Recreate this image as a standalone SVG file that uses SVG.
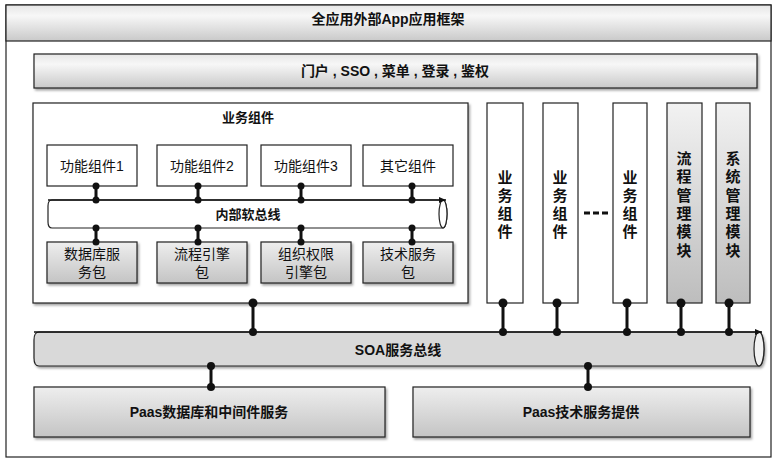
<svg xmlns="http://www.w3.org/2000/svg" width="776" height="462" viewBox="0 0 776 462">
<defs>
<linearGradient id="gBar" x1="0" y1="0" x2="0" y2="1">
<stop offset="0" stop-color="#e6e6e6"/><stop offset="0.3" stop-color="#f7f7f7"/><stop offset="1" stop-color="#c9c9c9"/>
</linearGradient>
<linearGradient id="gBox" x1="0" y1="0" x2="0" y2="1">
<stop offset="0" stop-color="#eeeeee"/><stop offset="1" stop-color="#c4c4c4"/>
</linearGradient>
<linearGradient id="gCol" x1="0" y1="0" x2="0" y2="1">
<stop offset="0" stop-color="#f2f2f2"/><stop offset="1" stop-color="#bdbdbd"/>
</linearGradient>
<filter id="sh" x="-5%" y="-5%" width="110%" height="120%">
<feDropShadow dx="1.5" dy="2" stdDeviation="1.2" flood-color="#000" flood-opacity="0.35"/>
</filter>
<marker id="arr" markerWidth="8" markerHeight="8" refX="7" refY="4" orient="auto" markerUnits="userSpaceOnUse">
<path d="M0,1 L7,4 L0,7 Z" fill="#111"/>
</marker>
</defs>
<style>
text{font-family:"Liberation Sans","Noto Sans CJK SC",sans-serif;fill:#111;text-anchor:middle;dominant-baseline:central}
.b{font-weight:bold}
.t14{font-size:14px}
.t13{font-size:13px}
.v{font-size:15px;font-weight:bold}
.box{fill:#fff;stroke:#222;stroke-width:1.2}
.gbox{fill:url(#gBox);stroke:#222;stroke-width:1.2}
.col{fill:#fff;stroke:#222;stroke-width:1.2}
.gcol{fill:url(#gCol);stroke:#222;stroke-width:1.2}
.ln{stroke:#111;stroke-width:3;fill:none}
.dot{fill:#111}
</style>

<g id="frame">
<rect x="6" y="5" width="765" height="452" fill="#fff" stroke="#222" stroke-width="1.2"/>
<rect x="6" y="5" width="765" height="36" fill="url(#gBar)" stroke="#222" stroke-width="1.2"/>
<text x="388" y="19" class="b t14">全应用外部App应用框架</text>
</g>

<g id="portal">
<rect x="34" y="54" width="723" height="34" fill="url(#gBar)" stroke="#222" stroke-width="1.2" filter="url(#sh)"/>
<text x="395" y="71" class="b t14">门户 , SSO , 菜单 , 登录 , 鉴权</text>
</g>

<g id="biz-container">
<rect x="33" y="103" width="435" height="200" fill="#fff" stroke="#222" stroke-width="1.2" filter="url(#sh)"/>
<text x="248" y="117" class="b t13">业务组件</text>
</g>

<g id="fc1"><rect class="box" x="47" y="145" width="90" height="41"/><text x="92" y="166" class="t14">功能组件1</text></g>
<g id="fc2"><rect class="box" x="157" y="145" width="90" height="41"/><text x="202" y="166" class="t14">功能组件2</text></g>
<g id="fc3"><rect class="box" x="261" y="145" width="90" height="41"/><text x="306" y="166" class="t14">功能组件3</text></g>
<g id="fc4"><rect class="box" x="363" y="145" width="90" height="41"/><text x="408" y="166" class="t14">其它组件</text></g>

<g id="inner-bus">
<path d="M52,200 L443,200 A4,14 0 0 1 443,228 L52,228 Q48,228 48,222 L48,206 Q48,200 52,200 Z" fill="#fff" stroke="#222" stroke-width="1.2"/>
<ellipse cx="443" cy="214" rx="4" ry="14" fill="#fff" stroke="#222" stroke-width="1.2"/>
<text x="248" y="214" class="b t13">内部软总线</text>
</g>

<g id="pk1"><rect class="gbox" x="47" y="242" width="90" height="41" filter="url(#sh)"/><text x="92" y="254" class="t14">数据库服</text><text x="92" y="272" class="t14">务包</text></g>
<g id="pk2"><rect class="gbox" x="157" y="242" width="90" height="41" filter="url(#sh)"/><text x="202" y="254" class="t14">流程引擎</text><text x="202" y="272" class="t14">包</text></g>
<g id="pk3"><rect class="gbox" x="261" y="242" width="90" height="41" filter="url(#sh)"/><text x="306" y="254" class="t14">组织权限</text><text x="306" y="272" class="t14">引擎包</text></g>
<g id="pk4"><rect class="gbox" x="363" y="242" width="90" height="41" filter="url(#sh)"/><text x="408" y="254" class="t14">技术服务</text><text x="408" y="272" class="t14">包</text></g>

<g id="col1"><rect class="col" x="487" y="103" width="36" height="200"/>
<text x="505" y="177" class="v">业</text><text x="505" y="195" class="v">务</text><text x="505" y="213" class="v">组</text><text x="505" y="231" class="v">件</text></g>
<g id="col2"><rect class="col" x="543" y="103" width="35" height="200"/>
<text x="560" y="177" class="v">业</text><text x="560" y="195" class="v">务</text><text x="560" y="213" class="v">组</text><text x="560" y="231" class="v">件</text></g>
<g id="col3"><rect class="col" x="613" y="103" width="34" height="200"/>
<text x="630" y="177" class="v">业</text><text x="630" y="195" class="v">务</text><text x="630" y="213" class="v">组</text><text x="630" y="231" class="v">件</text></g>
<g id="col4"><rect class="gcol" x="667" y="103" width="35" height="200"/>
<text x="684" y="158" class="v">流</text><text x="684" y="176" class="v">程</text><text x="684" y="195" class="v">管</text><text x="684" y="213" class="v">理</text><text x="684" y="231" class="v">模</text><text x="684" y="250" class="v">块</text></g>
<g id="col5"><rect class="gcol" x="716" y="103" width="34" height="200"/>
<text x="733" y="158" class="v">系</text><text x="733" y="176" class="v">统</text><text x="733" y="195" class="v">管</text><text x="733" y="213" class="v">理</text><text x="733" y="231" class="v">模</text><text x="733" y="250" class="v">块</text></g>

<g id="soa-bus">
<path d="M39,332 L759,332 A5,17 0 0 1 759,366 L39,366 Q34,366 34,358 L34,340 Q34,332 39,332 Z" fill="#d9d9d9" stroke="#222" stroke-width="1.2" filter="url(#sh)"/>
<ellipse cx="759" cy="349" rx="5" ry="17" fill="#f2f2f2" stroke="#222" stroke-width="1.2"/>
<text x="398" y="350" class="b t14">SOA服务总线</text>
</g>

<g id="paas1"><rect class="gbox" x="34" y="387" width="351" height="50" filter="url(#sh)"/><text x="209" y="412" class="b t14">Paas数据库和中间件服务</text></g>
<g id="paas2"><rect class="gbox" x="413" y="387" width="337" height="50" filter="url(#sh)"/><text x="581" y="412" class="b t14">Paas技术服务提供</text></g>

<g id="connectors">
<line x1="48" y1="200" x2="446" y2="200" stroke="#111" stroke-width="1.5" marker-end="url(#arr)"/>
<line x1="34" y1="332" x2="762" y2="332" stroke="#111" stroke-width="1.5" marker-end="url(#arr)"/>
<path class="ln" d="M96,186V200M198,186V200M301,186V200M412,186V200"/>
<path class="ln" d="M96,228V242M198,228V242M301,228V242M412,228V242"/>
<path class="ln" d="M253,303V332M503,303V332M557,303V332M627,303V332M681,303V332M729,303V332"/>
<path class="ln" d="M211,366V387M588,366V387"/>
<line x1="584" y1="213" x2="611" y2="213" stroke="#111" stroke-width="3" stroke-dasharray="6,3"/>
<g class="dot">
<circle cx="96" cy="186" r="3.5"/><circle cx="198" cy="186" r="3.5"/><circle cx="301" cy="186" r="3.5"/><circle cx="412" cy="186" r="3.5"/>
<circle cx="96" cy="200" r="3.5"/><circle cx="198" cy="200" r="3.5"/><circle cx="301" cy="200" r="3.5"/><circle cx="412" cy="200" r="3.5"/>
<circle cx="96" cy="228" r="3.5"/><circle cx="198" cy="228" r="3.5"/><circle cx="301" cy="228" r="3.5"/><circle cx="412" cy="228" r="3.5"/>
<circle cx="96" cy="242" r="3.5"/><circle cx="198" cy="242" r="3.5"/><circle cx="301" cy="242" r="3.5"/><circle cx="412" cy="242" r="3.5"/>
<circle cx="253" cy="303" r="4.5"/><circle cx="503" cy="303" r="4.5"/><circle cx="557" cy="303" r="4.5"/><circle cx="627" cy="303" r="4.5"/><circle cx="681" cy="303" r="4.5"/><circle cx="729" cy="303" r="4.5"/>
<circle cx="253" cy="332" r="4"/><circle cx="503" cy="332" r="4"/><circle cx="557" cy="332" r="4"/><circle cx="627" cy="332" r="4"/><circle cx="681" cy="332" r="4"/><circle cx="729" cy="332" r="4"/>
<circle cx="211" cy="366" r="4"/><circle cx="588" cy="366" r="4"/><circle cx="211" cy="387" r="4"/><circle cx="588" cy="387" r="4"/>
</g>
</g>
</svg>
